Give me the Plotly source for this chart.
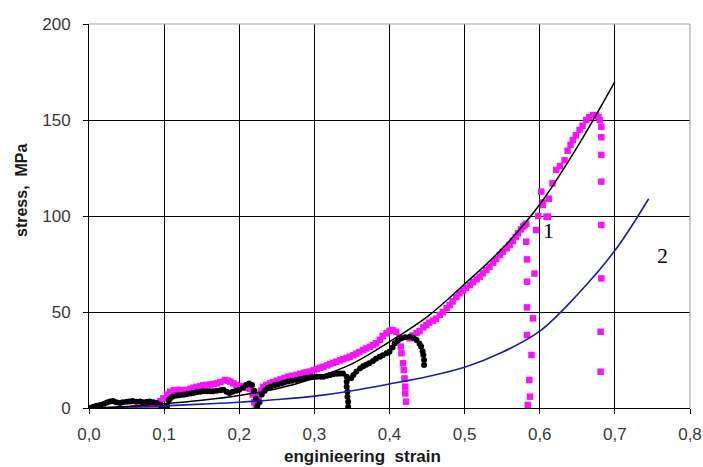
import plotly.graph_objects as go

# ---------------- data ----------------
x_tick_vals = [0.0, 0.1, 0.2, 0.3, 0.4, 0.5, 0.6, 0.7, 0.8]
y_tick_vals = [0, 50, 100, 150, 200]

# fitted model curve 1 (black line)
curve1_x = [0.0, 0.05, 0.10, 0.15, 0.20, 0.25, 0.30, 0.35, 0.40, 0.45, 0.50, 0.55, 0.60, 0.65, 0.70]
curve1_y = [0.0, 0.8, 2.2, 4.0, 6.5, 10.0, 15.5, 23.0, 34.5, 47.5, 64.6, 83.0, 106.0, 136.0, 170.0]

# model curve 2 (blue line)
curve2_x = [0.0, 0.05, 0.10, 0.15, 0.20, 0.25, 0.30, 0.35, 0.40, 0.45, 0.50, 0.55, 0.60, 0.65, 0.70, 0.745]
curve2_y = [0.0, 0.4, 1.1, 2.0, 3.0, 4.4, 6.2, 9.0, 12.5, 16.3, 21.2, 29.0, 40.0, 59.0, 82.0, 109.0]

# experiment A (black dots)
black_x = [0.000, 0.006, 0.010, 0.015, 0.020, 0.024, 0.028, 0.032, 0.036, 0.041, 0.045, 0.050,
           0.054, 0.058, 0.063, 0.068, 0.072, 0.077, 0.081, 0.086, 0.090, 0.095, 0.100, 0.104,
           0.106, 0.108, 0.112, 0.117, 0.121, 0.126, 0.130, 0.135, 0.139, 0.143, 0.148, 0.152,
           0.157, 0.161, 0.165, 0.170, 0.175, 0.179, 0.183, 0.187, 0.191, 0.196, 0.200, 0.205,
           0.209, 0.213, 0.217, 0.220, 0.222, 0.224, 0.227, 0.230, 0.234, 0.238, 0.242, 0.247,
           0.251, 0.256, 0.260, 0.265, 0.270, 0.276, 0.281, 0.286, 0.290, 0.295, 0.299, 0.303,
           0.308, 0.312, 0.317, 0.321, 0.325, 0.330, 0.334, 0.338, 0.343, 0.343, 0.343, 0.344,
           0.344, 0.345, 0.345, 0.349, 0.352, 0.356, 0.361, 0.365, 0.369, 0.373, 0.378, 0.382,
           0.387, 0.391, 0.396, 0.400, 0.404, 0.407, 0.411, 0.416, 0.421, 0.427, 0.432, 0.436,
           0.440, 0.442, 0.444, 0.445, 0.446, 0.446]
black_y = [0.0, 0.7, 1.2, 1.6, 2.2, 2.8, 3.4, 3.6, 3.0, 2.6, 3.0, 3.3,
           3.4, 3.6, 3.2, 3.4, 3.0, 3.2, 3.4, 3.0, 2.6, 1.5, 0.0, 1.0,
           4.0, 5.0, 6.0, 6.5, 6.7, 6.9, 7.2, 7.5, 7.8, 8.2, 8.5, 8.7,
           8.7, 8.7, 8.7, 9.0, 9.3, 9.5, 8.5, 7.8, 8.5, 9.0, 9.5, 10.5,
           12.0, 12.8, 12.0, 9.0, 5.0, 1.0, 3.0, 7.0, 9.0, 10.5, 11.1, 11.8,
           12.3, 12.8, 13.3, 13.8, 14.2, 14.6, 15.0, 15.4, 15.7, 16.0, 16.2, 16.3,
           16.3, 16.3, 16.8, 17.2, 17.6, 17.8, 18.0, 18.0, 16.3, 13.7, 11.1, 8.5,
           5.9, 3.3, 0.7, 15.5, 17.2, 19.0, 20.7, 21.8, 22.5, 23.3, 24.5, 25.6,
           26.7, 27.5, 28.5, 29.3, 31.5, 33.7, 35.0, 36.3, 36.8, 37.1, 36.5, 35.4,
           33.5, 32.0, 29.5, 27.6, 25.0, 22.4]

# experiment B (magenta squares)
magenta_x = [0.000, 0.060, 0.065, 0.068, 0.077, 0.082, 0.086, 0.090, 0.095, 0.099, 0.104, 0.108,
             0.113, 0.117, 0.122, 0.126, 0.130, 0.135, 0.139, 0.143, 0.148, 0.152, 0.156, 0.161,
             0.165, 0.170, 0.175, 0.181, 0.185, 0.188, 0.192, 0.196, 0.201, 0.205, 0.210, 0.214,
             0.218, 0.220, 0.222, 0.224, 0.226, 0.229, 0.232, 0.236, 0.241, 0.245, 0.250, 0.255,
             0.260, 0.265, 0.270, 0.276, 0.281, 0.286, 0.290, 0.294, 0.299, 0.303, 0.308, 0.312,
             0.317, 0.321, 0.325, 0.329, 0.334, 0.338, 0.343, 0.347, 0.352, 0.356, 0.360, 0.365,
             0.369, 0.374, 0.378, 0.382, 0.387, 0.391, 0.396, 0.400, 0.404, 0.409, 0.413, 0.415,
             0.416, 0.418, 0.419, 0.420, 0.421, 0.421, 0.422, 0.427, 0.431, 0.436, 0.440, 0.445,
             0.449, 0.453, 0.458, 0.462, 0.467, 0.471, 0.476, 0.480, 0.484, 0.489, 0.493, 0.498,
             0.502, 0.507, 0.511, 0.516, 0.520, 0.524, 0.529, 0.533, 0.538, 0.542, 0.547, 0.551,
             0.556, 0.560, 0.564, 0.568, 0.571, 0.575, 0.578, 0.580, 0.582, 0.582, 0.583, 0.583,
             0.583, 0.583, 0.589, 0.586, 0.587, 0.584, 0.591, 0.593, 0.595, 0.598, 0.602, 0.604,
             0.604, 0.609, 0.611, 0.612, 0.617, 0.622, 0.627, 0.633, 0.637, 0.641, 0.644, 0.648,
             0.653, 0.657, 0.662, 0.666, 0.671, 0.675, 0.678, 0.680, 0.682, 0.682, 0.682, 0.682,
             0.682, 0.682, 0.681, 0.681]
magenta_y = [0.0, 0.0, 0.0, 0.0, 0.0, 0.0, 0.7, 1.5, 3.5, 5.0, 7.0, 8.5,
             9.2, 9.4, 9.4, 9.2, 9.4, 10.0, 10.5, 11.0, 11.3, 11.8, 12.0, 12.2,
             12.5, 12.8, 13.5, 14.6, 14.2, 13.7, 12.8, 12.0, 11.5, 11.0, 10.5, 10.0,
             7.0, 3.0, 0.5, 3.0, 6.0, 9.0, 11.0, 12.0, 12.8, 13.5, 14.2, 14.9,
             15.6, 16.3, 16.8, 17.2, 17.8, 18.3, 18.7, 19.0, 19.7, 20.3, 21.0, 21.5,
             22.2, 22.9, 23.5, 24.1, 24.8, 25.4, 26.0, 26.7, 27.5, 28.3, 29.2, 30.2,
             31.0, 31.9, 32.8, 33.7, 35.5, 37.5, 38.9, 40.2, 40.6, 39.7, 36.3, 32.0,
             28.5, 23.3, 19.8, 15.4, 11.1, 7.6, 3.3, 36.3, 37.8, 39.0, 40.0, 42.0,
             43.2, 44.5, 45.5, 46.5, 48.5, 50.0, 52.0, 53.6, 55.5, 57.8, 59.7, 61.2,
             62.6, 64.0, 65.5, 67.0, 68.4, 70.1, 71.9, 73.6, 75.6, 77.6, 79.7, 81.4,
             83.2, 84.9, 87.0, 89.0, 91.0, 93.0, 94.5, 95.3, 96.0, 86.6, 77.4, 65.8,
             52.4, 38.0, 27.6, 14.6, 5.9, 1.6, 46.7, 70.0, 92.7, 100.0, 112.7, 107.0,
             105.7, 99.6, 99.6, 109.0, 117.0, 124.0, 126.0, 129.0, 134.0, 137.0, 139.6, 142.0,
             144.8, 147.0, 150.0, 151.5, 152.6, 152.5, 151.5, 150.0, 146.5, 141.0, 131.8, 117.9,
             95.3, 67.5, 39.7, 18.9]

curve_labels = ["1", "2"]
label_x = [0.612, 0.763]
label_y = [92.3, 79.2]

# ---------------- figure ----------------
FIG_W, FIG_H = 703, 467
M_L, M_T, M_R, M_B = 89, 24, 13, 59
PLOT_W = FIG_W - M_L - M_R
PLOT_H = FIG_H - M_T - M_B

fig = go.Figure()

fig.add_trace(go.Scatter(x=magenta_x, y=magenta_y, mode="markers",
                         marker=dict(symbol="square", size=6.5, color="#F516F5", line=dict(width=0)),
                         showlegend=False))
fig.add_trace(go.Scatter(x=black_x, y=black_y, mode="markers",
                         marker=dict(symbol="circle", size=6, color="#000000", line=dict(width=0)),
                         showlegend=False))
fig.add_trace(go.Scatter(x=curve2_x, y=curve2_y, mode="lines", line_shape="spline",
                         line=dict(color="#1E1EA0", width=1.6), showlegend=False))
fig.add_trace(go.Scatter(x=curve1_x, y=curve1_y, mode="lines", line_shape="spline",
                         line=dict(color="#000000", width=1.5), showlegend=False))

for t, lx, ly in zip(curve_labels, label_x, label_y):
    fig.add_annotation(x=lx, y=ly, text=t, showarrow=False,
                       font=dict(family="Liberation Serif, Times New Roman, serif", size=22, color="#000000"))

# axis titles (positioned like the original, offsets in pixels from the plot area)
fig.add_annotation(xref="paper", yref="paper", x=(362 - 89) / PLOT_W, y=-(456 - 408) / PLOT_H,
                   text="<b>enginieering  strain</b>", showarrow=False,
                   font=dict(family="Liberation Sans, Arial, sans-serif", size=17, color="#1a1a1a"),
                   xanchor="center", yanchor="middle")
fig.add_annotation(xref="paper", yref="paper", x=-(89 - 21) / PLOT_W, y=(408 - 191) / PLOT_H,
                   text="<b>stress,  MPa</b>", showarrow=False, textangle=-90,
                   font=dict(family="Liberation Sans, Arial, sans-serif", size=16, color="#1a1a1a"),
                   xanchor="center", yanchor="middle")

# plot-area border (grey top and right)
fig.add_shape(type="line", xref="x domain", yref="y domain", x0=0, x1=1, y0=1, y1=1,
              line=dict(color="#A6A6A6", width=1.2), layer="above")
fig.add_shape(type="line", xref="x domain", yref="y domain", x0=1, x1=1, y0=0, y1=1,
              line=dict(color="#A6A6A6", width=1.2), layer="above")

tick_font = dict(family="Liberation Sans, Arial, sans-serif", size=17, color="#3a3a3a")

fig.update_xaxes(range=[0, 0.8], tickvals=x_tick_vals, tickformat=".1f", automargin=False,
                 showgrid=True, gridcolor="#000000", gridwidth=1,
                 showline=True, linecolor="#000000", linewidth=1, zeroline=False,
                 ticks="outside", ticklen=5, tickcolor="#000000", tickwidth=1,
                 tickfont=tick_font, ticklabelstandoff=6)
fig.update_yaxes(range=[0, 200], tickvals=y_tick_vals, automargin=False,
                 showgrid=True, gridcolor="#000000", gridwidth=1,
                 showline=True, linecolor="#000000", linewidth=1, zeroline=False,
                 ticks="outside", ticklen=5, tickcolor="#000000", tickwidth=1,
                 tickfont=tick_font, ticklabelstandoff=9)

fig.update_layout(width=FIG_W, height=FIG_H,
                  margin=dict(l=M_L, r=M_R, t=M_T, b=M_B),
                  paper_bgcolor="#ffffff", plot_bgcolor="#ffffff",
                  separators=", ", showlegend=False)

# remove the browser's default 8 px page margin so the figure fills the window exactly
fig.write_html("out.html", config={"displayModeBar": False},
               post_script="document.body.style.margin='0px';document.body.style.overflow='hidden';")
